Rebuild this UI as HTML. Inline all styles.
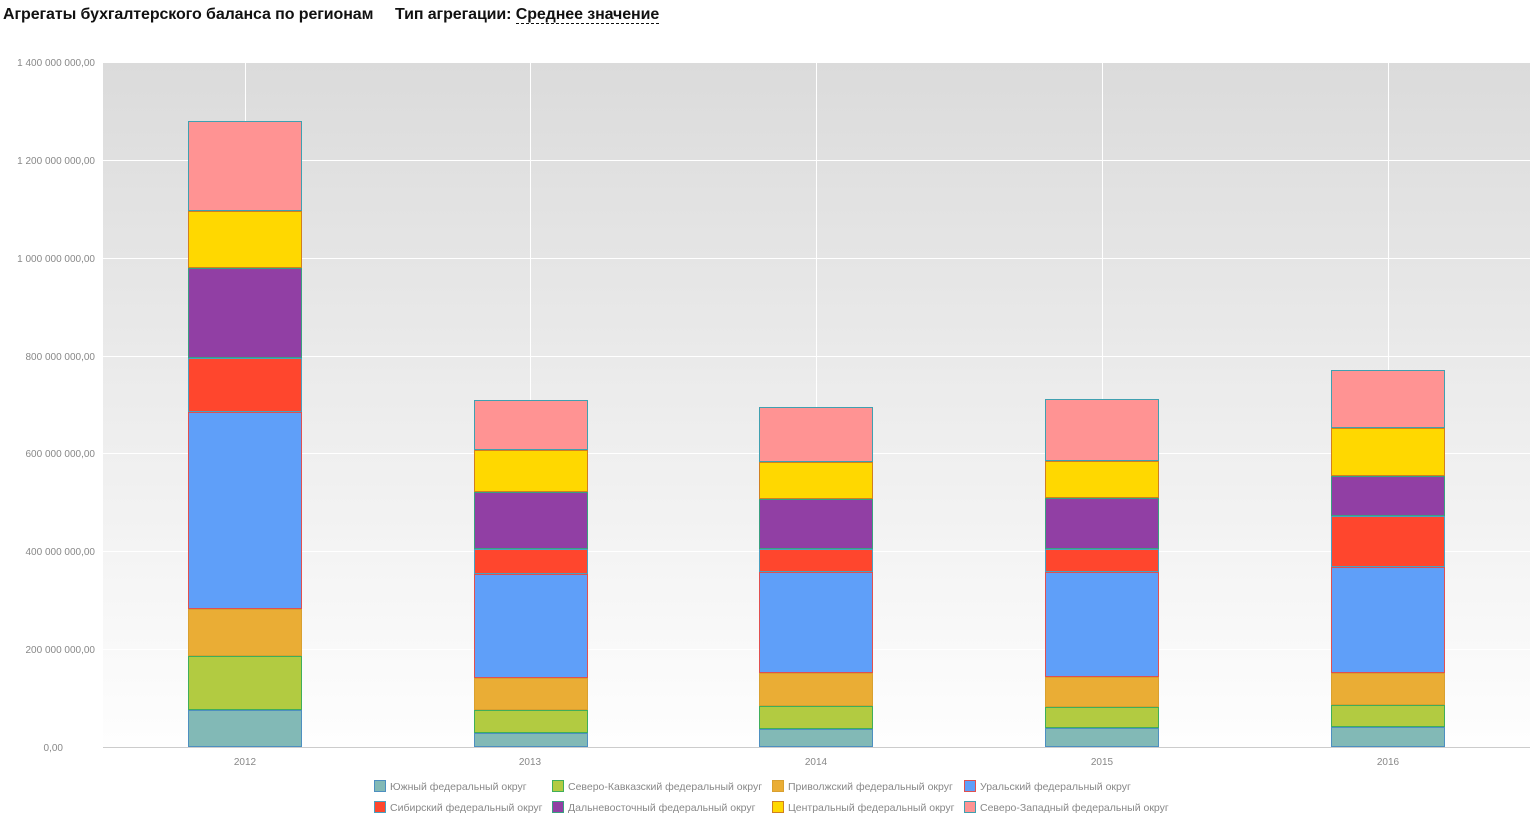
<!DOCTYPE html>
<html><head><meta charset="utf-8"><style>
body{margin:0;background:#fff;width:1539px;height:824px;overflow:hidden;font-family:"Liberation Sans",sans-serif}
.t{position:absolute;top:6px;left:3px;font-size:16px;font-weight:bold;color:#111;letter-spacing:-0.1px}
.u{border-bottom:1px dashed #111}
</style></head><body>
<div class="t">Агрегаты бухгалтерского баланса по регионам&nbsp;&nbsp;&nbsp;&nbsp;&nbsp;Тип агрегации: <span class="u">Среднее значение</span></div>
<svg id="s" width="1539" height="824" style="position:absolute;left:0;top:0" font-family="Liberation Sans, sans-serif">
<defs><linearGradient id="g" x1="0" y1="0" x2="0" y2="1"><stop offset="0" stop-color="#dbdbdb"/><stop offset="1" stop-color="#fefefe"/></linearGradient></defs>
<rect x="103" y="63" width="1427" height="684" fill="url(#g)"/>
<g stroke="#fff" stroke-width="1">
<line x1="103" x2="1530" y1="160.5" y2="160.5"/><line x1="103" x2="1530" y1="258.5" y2="258.5"/><line x1="103" x2="1530" y1="356.5" y2="356.5"/><line x1="103" x2="1530" y1="453.5" y2="453.5"/><line x1="103" x2="1530" y1="551.5" y2="551.5"/><line x1="103" x2="1530" y1="649.5" y2="649.5"/>
<line x1="245.5" x2="245.5" y1="63" y2="747"/><line x1="530.5" x2="530.5" y1="63" y2="747"/><line x1="816.5" x2="816.5" y1="63" y2="747"/><line x1="1102.5" x2="1102.5" y1="63" y2="747"/><line x1="1388.5" x2="1388.5" y1="63" y2="747"/>
</g>
<line x1="103" x2="1530" y1="747.5" y2="747.5" stroke="#ccc"/>
<g font-size="10" fill="#888" text-anchor="end">
<text x="95" y="66">1 400 000 000,00</text><text x="95" y="164">1 200 000 000,00</text><text x="95" y="262">1 000 000 000,00</text><text x="95" y="360">800 000 000,00</text><text x="95" y="457">600 000 000,00</text><text x="95" y="555">400 000 000,00</text><text x="95" y="653">200 000 000,00</text><text x="63" y="751">0,00</text>
</g>
<g font-size="10" fill="#888" text-anchor="middle">
<text x="245" y="765">2012</text><text x="530" y="765">2013</text><text x="816" y="765">2014</text><text x="1102" y="765">2015</text><text x="1388" y="765">2016</text>
</g>
<g id="bars"></g>
<g font-size="10.5" fill="#888">
<rect x="374.5" y="780.5" width="11" height="11" fill="#82b9b6" stroke="#4d8fc0"/><text x="390" y="790">Южный федеральный округ</text>
<rect x="552.5" y="780.5" width="11" height="11" fill="#b2cb41" stroke="#3fae5a"/><text x="568" y="790">Северо-Кавказский федеральный округ</text>
<rect x="772.5" y="780.5" width="11" height="11" fill="#eaad35" stroke="#d9a030"/><text x="788" y="790">Приволжский федеральный округ</text>
<rect x="964.5" y="780.5" width="11" height="11" fill="#5f9ff9" stroke="#e05050"/><text x="980" y="790">Уральский федеральный округ</text>
<rect x="374.5" y="801.5" width="11" height="11" fill="#ff462d" stroke="#4aa0c0"/><text x="390" y="811">Сибирский федеральный округ</text>
<rect x="552.5" y="801.5" width="11" height="11" fill="#913fa4" stroke="#3aa080"/><text x="568" y="811">Дальневосточный федеральный округ</text>
<rect x="772.5" y="801.5" width="11" height="11" fill="#ffd800" stroke="#d08020"/><text x="788" y="811">Центральный федеральный округ</text>
<rect x="964.5" y="801.5" width="11" height="11" fill="#ff9393" stroke="#40a0b0"/><text x="980" y="811">Северо-Западный федеральный округ</text>
</g>
</svg>
<script>
var fills=["#82b9b6","#b2cb41","#eaad35","#5f9ff9","#ff462d","#913fa4","#ffd800","#ff9393"];
var strokes=["#4d8fc0","#3fae5a","#d9a030","#e05050","#4aa0c0","#3aa080","#d08020","#40a0b0"];
var d=[[188,[747,710,656,609,412,358,268,211,121]],[474,[747,733,710,678,574,549,492,450,400]],[759,[747,729,706,673,572,549,499,462,407]],[1045,[747,728,707,677,572,549,498,461,399]],[1331,[747,727,705,673,567,516,476,428,370]]];
var h="";
d.forEach(function(b){for(var i=0;i<8;i++){var y1=b[1][i+1],y0=b[1][i];h+='<rect x="'+(b[0]+0.5)+'" y="'+(y1+0.5)+'" width="113" height="'+(y0-y1-1)+'" fill="'+fills[i]+'" stroke="'+strokes[i]+'"/>';}});
document.getElementById("bars").innerHTML=h;
</script>
</body></html>
